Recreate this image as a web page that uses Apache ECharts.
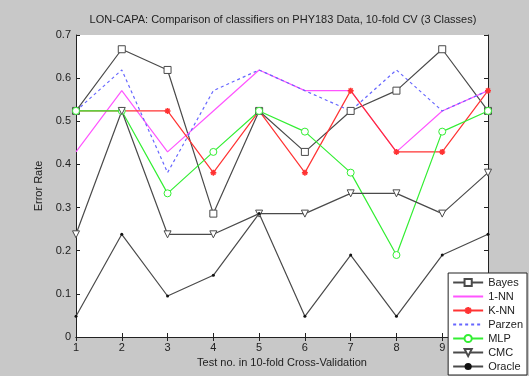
<!DOCTYPE html>
<html>
<head>
<meta charset="utf-8">
<script src="https://cdn.jsdelivr.net/npm/echarts@6/dist/echarts.min.js"></script>
<style>
  html, body { margin: 0; padding: 0; background: #c8c8c8; }
  #chart { width: 529px; height: 376px; }
</style>
</head>
<body>
<div id="chart"></div>
<script>
// test numbers on the x axis
var tests = [1, 2, 3, 4, 5, 6, 7, 8, 9, 10];

// error rates per classifier
var bayes  = [0.524, 0.667, 0.619, 0.286, 0.524, 0.429, 0.524, 0.571, 0.667, 0.524];
var nn1    = [0.429, 0.571, 0.429, 0.524, 0.619, 0.571, 0.571, 0.429, 0.524, 0.571];
var knn    = [0.524, 0.524, 0.524, 0.381, 0.524, 0.381, 0.571, 0.429, 0.429, 0.571];
var parzen = [0.524, 0.619, 0.381, 0.571, 0.619, 0.571, 0.524, 0.619, 0.524, 0.571];
var mlp    = [0.524, 0.524, 0.333, 0.429, 0.524, 0.476, 0.381, 0.190, 0.476, 0.524];
var cmc    = [0.238, 0.524, 0.238, 0.238, 0.286, 0.286, 0.333, 0.333, 0.286, 0.381];
var oracle = [0.048, 0.238, 0.095, 0.143, 0.286, 0.048, 0.190, 0.048, 0.190, 0.238];

var names = ['Bayes', '1-NN', 'K-NN', 'Parzen', 'MLP', 'CMC', 'Oracle'];

var star = 'path://M0,-10L0,10M-10,0L10,0M-7,-7L7,7M-7,7L7,-7';
var triDown = 'path://M-10,-8L10,-8L0,10Z';

function pairs(arr) {
	return arr.map(function (v, i) { return [tests[i], v]; });
}

function mkSeries(name, data, color, opts) {
	var s = {
		name: name,
		type: 'line',
		data: pairs(data),
		symbol: 'none',
		animation: false,
		lineStyle: { color: color, width: 1.2, type: 'solid' },
		itemStyle: { color: color }
	};
	for (var k in opts) s[k] = opts[k];
	return s;
}

var myChart = echarts.init(document.getElementById('chart'));

var gray = '#4a4a4a';
var axisCommon = {
	axisLine: { lineStyle: { color: '#222', width: 1 } },
	splitLine: { show: false },
	axisTick: { inside: true, length: 4, lineStyle: { color: '#222' } }
};

// legend entries; the plain-line series get no marker
var legendData = names.map(function (n) {
	if (n === '1-NN' || n === 'Parzen') return { name: n, itemStyle: { opacity: 0 } };
	return { name: n };
});

myChart.setOption({
	backgroundColor: '#c8c8c8',
	textStyle: { fontFamily: 'Liberation Sans, Arial, sans-serif' },
	title: {
		text: 'LON-CAPA: Comparison of classifiers on PHY183 Data, 10-fold CV (3 Classes)',
		left: 278,
		top: 9,
		textAlign: 'center',
		textStyle: { fontSize: 11, fontWeight: 'normal', color: '#222' }
	},
	grid: { left: 76, right: 41, top: 35, bottom: 39, show: true, backgroundColor: '#ffffff', borderWidth: 0 },
	legend: {
		data: legendData,
		orient: 'vertical',
		right: 2,
		bottom: 1,
		backgroundColor: '#ffffff',
		borderColor: '#222',
		borderWidth: 1,
		padding: [4, 4, 3, 4],
		itemGap: 3,
		itemWidth: 30,
		itemHeight: 9,
		textStyle: { fontSize: 11, color: '#222' }
	},
	xAxis: [
		Object.assign({
			type: 'value', min: 1, max: 10, interval: 1,
			name: 'Test no. in 10-fold Cross-Validation',
			nameLocation: 'middle', nameGap: 20,
			nameTextStyle: { fontSize: 11, color: '#222' },
			axisLabel: { fontSize: 11, color: '#222', margin: 5 }
		}, axisCommon),
		Object.assign({
			type: 'value', min: 1, max: 10, interval: 1, position: 'top',
			axisLabel: { show: false }
		}, axisCommon)
	],
	yAxis: [
		Object.assign({
			type: 'value', min: 0, max: 0.7, interval: 0.1,
			name: 'Error Rate',
			nameLocation: 'middle', nameGap: 31,
			nameTextStyle: { fontSize: 11, color: '#222' },
			axisLabel: { fontSize: 11, color: '#222', margin: 5,
				formatter: function (v) { return v === 0 ? '0' : v.toFixed(1); } }
		}, axisCommon),
		Object.assign({
			type: 'value', min: 0, max: 0.7, interval: 0.1, position: 'right',
			axisLabel: { show: false }
		}, axisCommon)
	],
	series: [
		mkSeries('Bayes', bayes, gray, {
			symbol: 'rect', symbolSize: 7,
			itemStyle: { color: '#ffffff', borderColor: gray, borderWidth: 1 }
		}),
		mkSeries('1-NN', nn1, '#ff55ff', {}),
		mkSeries('K-NN', knn, '#ff3333', {
			symbol: star, symbolSize: 6,
			itemStyle: { color: '#ff3333', borderColor: '#ff3333', borderWidth: 1.5 }
		}),
		mkSeries('Parzen', parzen, '#6666ff', {
			lineStyle: { color: '#6666ff', width: 1.2, type: [3, 3] }
		}),
		mkSeries('MLP', mlp, '#33ee33', {
			symbol: 'circle', symbolSize: 7,
			itemStyle: { color: '#ffffff', borderColor: '#33ee33', borderWidth: 1 }
		}),
		mkSeries('CMC', cmc, gray, {
			symbol: triDown, symbolSize: 7,
			itemStyle: { color: '#ffffff', borderColor: gray, borderWidth: 1 }
		}),
		mkSeries('Oracle', oracle, gray, {
			symbol: 'circle', symbolSize: 3,
			itemStyle: { color: '#111' }
		})
	]
});
</script>
</body>
</html>
